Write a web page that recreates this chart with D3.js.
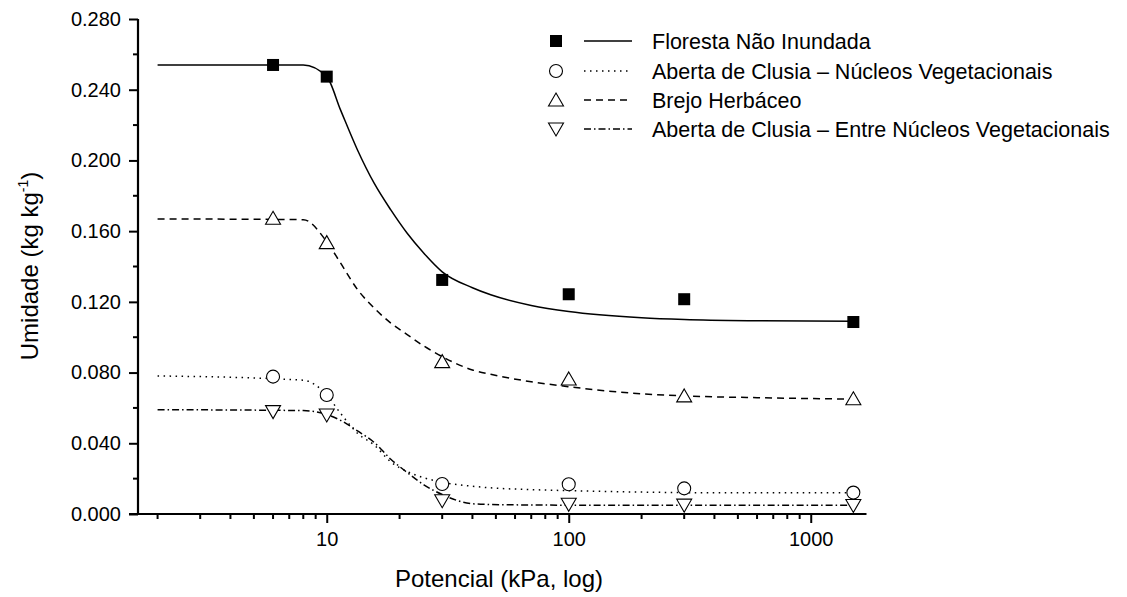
<!DOCTYPE html>
<html>
  <head>
    <meta charset="utf-8" />
    <script src="https://d3js.org/d3.v7.min.js"></script>
    <style>
        body { margin: 0; background: #fff; }
        svg text { font-family: "Liberation Sans", Arial, sans-serif; fill: #000; }
    </style>
  </head>
  <body>

    <svg id="chart" width="1127" height="597"></svg>

    <script>
        // measured points (kPa, kg/kg)
        var pressures = [6, 10, 30, 100, 300, 1500];
        var florestaObs = [0.2540, 0.2474, 0.1324, 0.1243, 0.1215, 0.1086];
        var nucleosObs  = [0.0777, 0.0673, 0.0170, 0.0168, 0.0145, 0.0121];
        var brejoObs    = [0.1673, 0.1535, 0.0862, 0.0764, 0.0668, 0.0652];
        var entreObs    = [0.0579, 0.0560, 0.0075, 0.0055, 0.0050, 0.0048];

        // fitted curves
        var fitKpa = [2, 8, 10, 11.4, 13.4, 15.7, 18.4, 21.5, 25.2, 30, 40, 47.6, 70, 100, 200, 300, 600, 1500];
        var florestaFit = [0.2540, 0.2540, 0.2474, 0.2286, 0.2059, 0.1871, 0.1720, 0.1588, 0.1475, 0.1370, 0.1280, 0.1240, 0.1180, 0.1145, 0.1110, 0.1100, 0.1093, 0.1090];
        var nucleosFit  = [0.0781, 0.0757, 0.0673, 0.0570, 0.0457, 0.0390, 0.0295, 0.0240, 0.0205, 0.0180, 0.0157, 0.0148, 0.0138, 0.0132, 0.0124, 0.0121, 0.0120, 0.0120];
        var brejoFit    = [0.1669, 0.1665, 0.1540, 0.1420, 0.1270, 0.1165, 0.1080, 0.1015, 0.0950, 0.0890, 0.0815, 0.0790, 0.0748, 0.0720, 0.0680, 0.0668, 0.0658, 0.0650];
        var entreFit    = [0.0590, 0.0585, 0.0563, 0.0530, 0.0470, 0.0405, 0.0310, 0.0235, 0.0165, 0.0110, 0.0058, 0.0054, 0.0051, 0.0050, 0.0050, 0.0050, 0.0050, 0.0050];

        var seriesNames = [
            "Floresta Não Inundada",
            "Aberta de Clusia – Núcleos Vegetacionais",
            "Brejo Herbáceo",
            "Aberta de Clusia – Entre Núcleos Vegetacionais"
        ];
        var yTicks = [0, 0.04, 0.08, 0.12, 0.16, 0.20, 0.24, 0.28];
        var xTicks = [10, 100, 1000];

        var series = [
            { name: seriesNames[0], obs: florestaObs, fit: florestaFit, marker: "square", dash: null },
            { name: seriesNames[1], obs: nucleosObs, fit: nucleosFit, marker: "circle", dash: "1.5,4.5" },
            { name: seriesNames[2], obs: brejoObs, fit: brejoFit, marker: "up", dash: "7,5" },
            { name: seriesNames[3], obs: entreObs, fit: entreFit, marker: "down", dash: "7,3,1.5,3" }
        ];

        var svg = d3.select("#chart");

        var x = d3.scaleLog().domain([1.66, 1700]).range([138, 866.5]);
        var y = d3.scaleLinear().domain([0, 0.28]).range([514, 19]);

        // y axis
        var yAxis = d3.axisLeft(y)
            .tickValues(yTicks)
            .tickFormat(d3.format(".3f"))
            .tickSize(9)
            .tickPadding(8);
        var gy = svg.append("g").attr("transform", "translate(138,0)").call(yAxis);
        gy.select(".domain").remove();
        gy.selectAll(".tick line").attr("stroke", "#000").attr("stroke-width", 2);
        gy.selectAll(".tick text").style("font-size", "20px");

        // minor y ticks
        var yMinor = d3.range(0.02, 0.28, 0.04);
        svg.append("g").selectAll("line").data(yMinor).enter().append("line")
            .attr("x1", 133).attr("x2", 138)
            .attr("y1", function(d) { return y(d); })
            .attr("y2", function(d) { return y(d); })
            .attr("stroke", "#000").attr("stroke-width", 2);

        // x axis
        var xAxis = d3.axisBottom(x)
            .tickValues(xTicks)
            .tickFormat(d3.format("d"))
            .tickSize(9)
            .tickPadding(9);
        var gx = svg.append("g").attr("transform", "translate(0,514)").call(xAxis);
        gx.select(".domain").remove();
        gx.selectAll(".tick line").attr("stroke", "#000").attr("stroke-width", 2);
        gx.selectAll(".tick text").style("font-size", "20px");

        var xMinor = [];
        [1, 10, 100].forEach(function(base) {
            for (var k = 2; k <= 9; k++) {
                if (base * k < 1700) xMinor.push(base * k);
            }
        });
        svg.append("g").selectAll("line").data(xMinor).enter().append("line")
            .attr("x1", function(d) { return x(d); })
            .attr("x2", function(d) { return x(d); })
            .attr("y1", 514).attr("y2", 519)
            .attr("stroke", "#000").attr("stroke-width", 2);

        // axis lines
        svg.append("line")
            .attr("x1", 138).attr("x2", 138).attr("y1", y(0.28)).attr("y2", y(0))
            .attr("stroke", "#000").attr("stroke-width", 2.2);
        svg.append("line")
            .attr("x1", 129).attr("x2", x(1700)).attr("y1", 514).attr("y2", 514)
            .attr("stroke", "#000").attr("stroke-width", 2.2);

        // axis titles
        svg.append("text")
            .attr("x", 499).attr("y", 587)
            .attr("text-anchor", "middle")
            .style("font-size", "24px")
            .text("Potencial (kPa, log)");

        var yt = svg.append("text")
            .attr("transform", "translate(38,266) rotate(-90)")
            .attr("text-anchor", "middle")
            .style("font-size", "24px");
        yt.append("tspan").text("Umidade (kg kg");
        yt.append("tspan").attr("dy", "-10").style("font-size", "14px").text("-1");
        yt.append("tspan").attr("dy", "10").text(")");

        // markers
        function drawMarker(g, type, cx, cy) {
            if (type === "square") {
                g.append("rect")
                    .attr("x", cx - 6).attr("y", cy - 6)
                    .attr("width", 12).attr("height", 12)
                    .attr("fill", "#000");
            } else if (type === "circle") {
                g.append("circle")
                    .attr("cx", cx).attr("cy", cy).attr("r", 6.5)
                    .attr("fill", "#fff").attr("stroke", "#000").attr("stroke-width", 1.1);
            } else if (type === "up") {
                g.append("path")
                    .attr("d", "M" + cx + "," + (cy - 7) + "L" + (cx + 7.5) + "," + (cy + 6) + "L" + (cx - 7.5) + "," + (cy + 6) + "Z")
                    .attr("fill", "#fff").attr("stroke", "#000").attr("stroke-width", 1.1);
            } else {
                g.append("path")
                    .attr("d", "M" + cx + "," + (cy + 7) + "L" + (cx + 7.5) + "," + (cy - 6) + "L" + (cx - 7.5) + "," + (cy - 6) + "Z")
                    .attr("fill", "#fff").attr("stroke", "#000").attr("stroke-width", 1.1);
            }
        }

        var line = d3.line()
            .x(function(d) { return x(d[0]); })
            .y(function(d) { return y(d[1]); })
            .curve(d3.curveMonotoneX);

        // fitted lines first, markers on top
        series.forEach(function(s) {
            var pts = fitKpa.map(function(k, i) { return [k, s.fit[i]]; });
            svg.append("path")
                .attr("d", line(pts))
                .attr("fill", "none")
                .attr("stroke", "#000")
                .attr("stroke-width", 1.5)
                .attr("stroke-dasharray", s.dash);
        });
        series.forEach(function(s) {
            var g = svg.append("g");
            pressures.forEach(function(p, i) {
                drawMarker(g, s.marker, x(p), y(s.obs[i]));
            });
        });

        // legend
        var legendY = [41, 71, 100, 129];
        series.forEach(function(s, i) {
            var g = svg.append("g");
            drawMarker(g, s.marker, 556, legendY[i]);
            g.append("line")
                .attr("x1", 584).attr("x2", 632)
                .attr("y1", legendY[i]).attr("y2", legendY[i])
                .attr("stroke", "#000").attr("stroke-width", 1.5)
                .attr("stroke-dasharray", s.dash);
            g.append("text")
                .attr("x", 652).attr("y", legendY[i])
                .attr("dy", "0.35em")
                .style("font-size", "21.5px")
                .text(s.name);
        });

    </script>
  </body>
</html>
